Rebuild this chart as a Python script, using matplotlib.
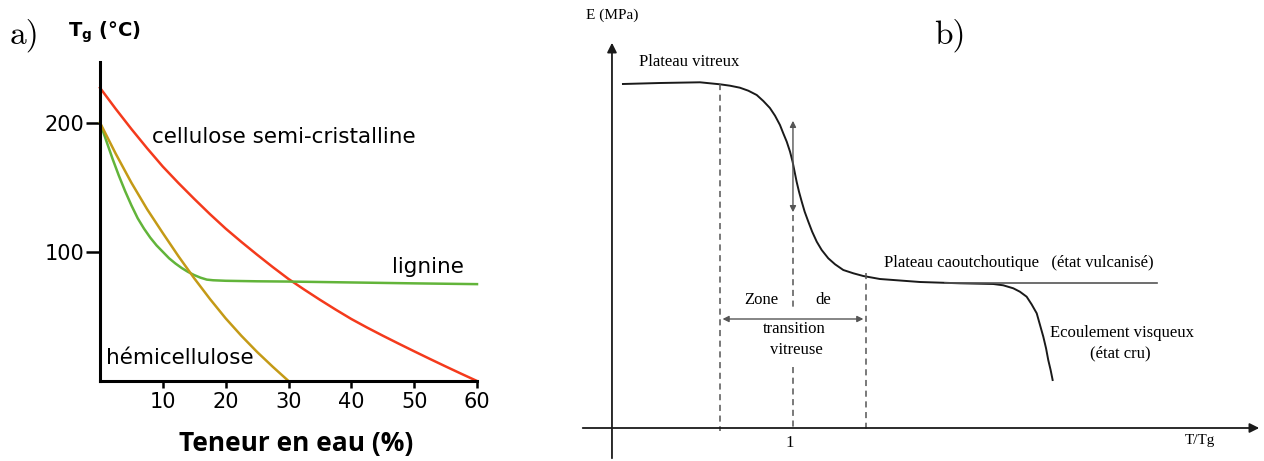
import matplotlib
matplotlib.use("Agg")
import matplotlib.pyplot as plt
import numpy as np

# ---- panel a : Tg vs water content ----
water_cel = [0, 2.5, 5, 7.5, 10, 12.5, 15, 17.5, 20, 22.5, 25, 27.5, 30, 32.5, 35,
             37.5, 40, 42.5, 45, 47.5, 50, 52.5, 55, 57.5, 60]
tg_cellulose = [227, 210.7, 195.1, 180.2, 166, 153.2, 141, 129.2, 118, 107.7, 97.8,
                88.2, 79, 70.8, 62.9, 55.3, 48, 41.4, 35.1, 29, 23, 17.1, 11.3, 5.6, 0]

water_lig = [0, 1, 2, 3, 4, 5, 6, 7, 8, 9, 10, 11, 12, 13, 14, 15, 16, 17, 18, 20,
             25, 30, 40, 50, 60]
tg_lignine = [200, 186, 172, 159, 147, 136, 126, 118, 111, 105, 100, 95, 91, 87.5,
              84.5, 82, 80, 78.5, 78, 77.6, 77.2, 77, 76.3, 75.6, 75]

water_hemi = [0, 2.5, 5, 7.5, 10, 12.5, 15, 17.5, 20, 22.5, 25, 27.5, 30]
tg_hemi = [200, 176, 153.5, 133, 114.5, 96.5, 79.5, 63.5, 48.5, 35, 22.5, 11, 0]

xticks_a = [10, 20, 30, 40, 50, 60]
yticks_a = [100, 200]

# ---- panel b : schematic modulus vs T/Tg ----
t_ratio = [0.071, 0.273, 0.492, 0.601, 0.656, 0.710, 0.756, 0.802, 0.838, 0.874,
           0.902, 0.929, 0.947, 0.966, 0.984, 0.998, 1.009, 1.020, 1.033, 1.048,
           1.064, 1.084, 1.105, 1.130, 1.157, 1.193, 1.230, 1.275, 1.330, 1.384,
           1.475, 1.694, 1.913, 2.095, 2.149, 2.204, 2.240, 2.277, 2.304, 2.332,
           2.350, 2.368, 2.383, 2.395, 2.408, 2.419]
modulus = [3.44, 3.45, 3.457, 3.437, 3.423, 3.403, 3.373, 3.33, 3.27, 3.20,
           3.123, 3.03, 2.947, 2.863, 2.763, 2.663, 2.563, 2.463, 2.363, 2.263,
           2.163, 2.063, 1.963, 1.863, 1.78, 1.697, 1.637, 1.58, 1.547, 1.52,
           1.49, 1.46, 1.447, 1.44, 1.427, 1.397, 1.363, 1.313, 1.237, 1.147,
           1.03, 0.913, 0.797, 0.68, 0.58, 0.48]
zone_bounds = [0.60, 1.0, 1.40]
glassy_level = 3.44
rubber_level = 1.45

red = "#f43a1c"
green = "#62b43a"
gold = "#c49a16"

fig = plt.figure(figsize=(12.64, 4.61), dpi=100)
W, H = 1264, 461

# panel a
ax = fig.add_axes([100 / W, (H - 381) / H, 377 / W, (381 - 62) / H])
ax.plot(water_cel, tg_cellulose, color=red, lw=1.8, clip_on=False)
ax.plot(water_lig, tg_lignine, color=green, lw=1.8, clip_on=False)
ax.plot(water_hemi, tg_hemi, color=gold, lw=1.8, clip_on=False)
ax.set_xlim(0, 60)
ax.set_ylim(0, 247)
for s in ["top", "right"]:
    ax.spines[s].set_visible(False)
for s in ["left", "bottom"]:
    ax.spines[s].set_linewidth(2.2)
ax.set_xticks(xticks_a)
ax.set_yticks(yticks_a)
ax.tick_params(axis="x", length=5, width=1.8, labelsize=15, pad=3)
ax.tick_params(axis="y", length=10, width=1.8, labelsize=15, pad=1)
ax.patch.set_alpha(0)

ax.text(8.3, 189, "cellulose semi-cristalline", fontsize=15.5, va="center")
ax.text(46.5, 88, "lignine", fontsize=15.5, va="center")
ax.text(1.0, 18, "hémicellulose", fontsize=15.5, va="center")

fig.text(68 / W, 1 - 32 / H, r"$\mathbf{T_g}$ (°C)", fontsize=14, fontweight="bold",
         va="center", ha="left")
fig.text(296 / W, 1 - 443 / H, "Teneur en eau (%)", fontsize=19, fontweight="bold",
         family="Open Sans", ha="center", va="center")
fig.text(10 / W, 1 - 35 / H, "a)", fontsize=24, family="cmr10", va="center")

# panel b
bx = fig.add_axes([560 / W, 0, 704 / W, 1])
bx.set_xlim(-0.273, 3.574)
bx.set_ylim(-0.33, 4.28)
bx.axis("off")

serif = "Liberation Serif"
ink = "#1a1a1a"
grey = "#555555"

# axes with arrows
bx.annotate("", xy=(3.563, 0), xytext=(-0.164, 0),
            arrowprops=dict(arrowstyle="-|>", color=ink, lw=1.3, mutation_scale=14))
bx.annotate("", xy=(0.011, 3.88), xytext=(0.011, -0.33),
            arrowprops=dict(arrowstyle="-|>", color=ink, lw=1.3, mutation_scale=14))

bx.plot(t_ratio, modulus, color=ink, lw=1.4)
bx.plot([1.83, 2.99], [rubber_level, rubber_level], color=grey, lw=1.2)

dash = dict(color=grey, lw=1.1, linestyle=(0, (4, 3)))
bx.plot([zone_bounds[0], zone_bounds[0]], [glassy_level, -0.03], **dash)
bx.plot([zone_bounds[1], zone_bounds[1]], [2.13, 1.18], **dash)
bx.plot([zone_bounds[1], zone_bounds[1]], [0.61, 0.0], **dash)
bx.plot([zone_bounds[2], zone_bounds[2]], [1.55, -0.05], **dash)

bx.annotate("", xy=(zone_bounds[1], 3.10), xytext=(zone_bounds[1], 2.13),
            arrowprops=dict(arrowstyle="<|-|>", color=grey, lw=1.0, mutation_scale=9))
bx.annotate("", xy=(zone_bounds[2], 1.09), xytext=(zone_bounds[0], 1.09),
            arrowprops=dict(arrowstyle="<|-|>", color=grey, lw=1.0, mutation_scale=9))

bx.text(0.011, 4.13, "E (MPa)", family=serif, fontsize=11, ha="center", va="center")
bx.text(1.858, 3.93, "b)", family="cmr10", fontsize=24, ha="center", va="center")
bx.text(0.158, 3.66, "Plateau vitreux", family=serif, fontsize=12, va="center")
bx.text(1.497, 1.65, "Plateau caoutchoutique   (état vulcanisé)", family=serif,
        fontsize=12, va="center")
bx.text(0.825, 1.28, "Zone", family=serif, fontsize=12, ha="center", va="center")
bx.text(1.164, 1.28, "de", family=serif, fontsize=12, ha="center", va="center")
bx.text(1.005, 0.99, "transition", family=serif, fontsize=12, ha="center", va="center")
bx.text(1.016, 0.78, "vitreuse", family=serif, fontsize=12, ha="center", va="center")
bx.text(2.404, 0.95, "Ecoulement visqueux", family=serif, fontsize=12, va="center")
bx.text(2.787, 0.75, "(état cru)", family=serif, fontsize=12, ha="center", va="center")
bx.text(0.984, -0.15, "1", family=serif, fontsize=12, ha="center", va="center")
bx.text(3.224, -0.12, "T/Tg", family=serif, fontsize=11, ha="center", va="center")

fig.savefig("out.png", dpi=100)
